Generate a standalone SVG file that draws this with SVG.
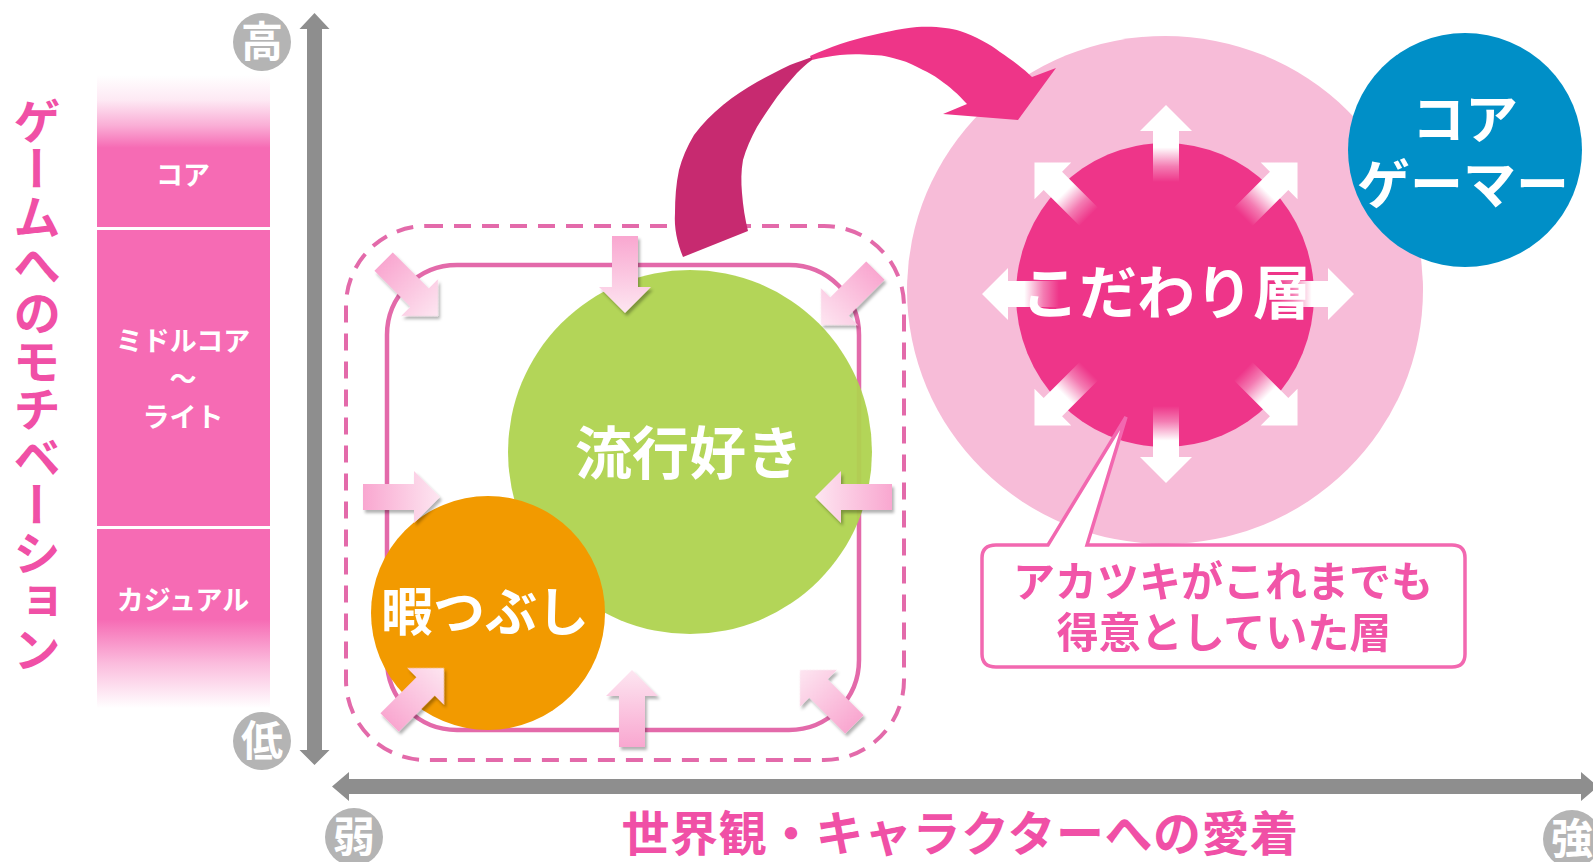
<svg xmlns="http://www.w3.org/2000/svg" width="1593" height="862" viewBox="0 0 1593 862">
<defs>
<style>
.jp{font-family:"Noto Sans CJK JP","Noto Sans CJK SC",sans-serif;font-weight:700;}
.wt{fill:#ffffff;text-anchor:middle;}
.pk{fill:#F050A6;text-anchor:middle;}
.axis{fill:#8E8E8E;}
.badge{fill:#B4B4B4;}
</style>
<linearGradient id="barGrad" x1="0" y1="0" x2="0" y2="1">
<stop offset="0" stop-color="#F66BB4" stop-opacity="0"/>
<stop offset="0.04" stop-color="#F66BB4" stop-opacity="0.15"/>
<stop offset="0.08" stop-color="#F66BB4" stop-opacity="0.55"/>
<stop offset="0.115" stop-color="#F66BB4" stop-opacity="1"/>
<stop offset="0.86" stop-color="#F66BB4" stop-opacity="1"/>
<stop offset="0.93" stop-color="#F66BB4" stop-opacity="0.45"/>
<stop offset="1" stop-color="#F66BB4" stop-opacity="0"/>
</linearGradient>
<linearGradient id="whiteGrad" x1="0" y1="0" x2="1" y2="0">
<stop offset="0" stop-color="#ffffff" stop-opacity="0"/>
<stop offset="0.2" stop-color="#ffffff" stop-opacity="0.35"/>
<stop offset="0.45" stop-color="#ffffff" stop-opacity="1"/>
<stop offset="1" stop-color="#ffffff" stop-opacity="1"/>
</linearGradient>
<linearGradient id="pinkGrad" x1="0" y1="0" x2="1" y2="0">
<stop offset="0" stop-color="#F9A7D0"/>
<stop offset="1" stop-color="#FDE6F1"/>
</linearGradient>
<filter id="shadow" x="-20%" y="-20%" width="140%" height="140%">
<feDropShadow dx="2" dy="3" stdDeviation="1.5" flood-color="#000000" flood-opacity="0.3"/>
</filter>
<path id="arrowW" d="M0,0 L-26,-26 L-26,-13 L-77,-13 L-77,13 L-26,13 L-26,26 Z"/>
</defs>

<!-- left axis title -->
<g id="y-title">
<text class="jp" x="37" y="97" font-size="48" fill="#F050A6" style="writing-mode:vertical-rl">ゲームへのモチベーション</text>
</g>

<!-- motivation bar -->
<g id="motivation-bar">
<rect x="97" y="75" width="173" height="633" fill="url(#barGrad)"/>
<rect x="97" y="227" width="173" height="3" fill="#ffffff"/>
<rect x="97" y="526" width="173" height="3" fill="#ffffff"/>
<text class="jp wt" x="183" y="185" font-size="27" font-weight="400">コア</text>
<text class="jp wt" x="183" y="351" font-size="27" font-weight="400">ミドルコア</text>
<text class="jp wt" x="183" y="389" font-size="27" font-weight="400">～</text>
<text class="jp wt" x="183" y="427" font-size="27" font-weight="400">ライト</text>
<text class="jp wt" x="183" y="610" font-size="27" font-weight="400">カジュアル</text>
</g>

<!-- axes -->
<g id="axes">
<path class="axis" d="M314.5,13 L329.5,29 L322,29 L322,750 L329.5,750 L314.5,765 L299.5,750 L307,750 L307,29 L299.5,29 Z"/>
<path class="axis" d="M332,786.5 L349,772 L349,779 L1581,779 L1581,772 L1598,786.5 L1581,801 L1581,794 L349,794 L349,801 Z"/>
</g>
<g id="badge-high"><circle class="badge" cx="262" cy="42" r="29"/><text class="jp wt" x="262" y="57" font-size="42">高</text></g>
<g id="badge-low"><circle class="badge" cx="262" cy="741" r="29"/><text class="jp wt" x="262" y="756" font-size="42">低</text></g>
<g id="badge-weak"><circle class="badge" cx="354" cy="837" r="29"/><text class="jp wt" x="354" y="852" font-size="42">弱</text></g>
<g id="badge-strong"><circle class="badge" cx="1572" cy="839" r="29"/><text class="jp wt" x="1572" y="854" font-size="42">強</text></g>

<g id="x-title">
<text class="jp pk" x="960" y="851" font-size="48" letter-spacing="0.5">世界観・キャラクターへの愛着</text>
</g>

<!-- casual group frames -->
<g id="casual-frame">
<rect x="346" y="226" width="558" height="534" rx="80" ry="80" fill="none" stroke="#E36AAA" stroke-width="4" stroke-dasharray="17 11"/>
<rect x="387" y="265" width="472" height="465" rx="70" ry="70" fill="none" stroke="#E36AAA" stroke-width="4.5"/>
</g>

<g id="node-trend">
<circle cx="690" cy="452" r="182" fill="#AFD34F" fill-opacity="0.95"/>
</g>
<g id="node-kill-time">
<circle cx="488" cy="613" r="117" fill="#F29A00"/>
</g>

<g id="inward-arrows" filter="url(#shadow)" fill="url(#pinkGrad)">
<use href="#arrowW" transform="translate(625,313) rotate(90)"/>
<use href="#arrowW" transform="translate(438,316) rotate(45)"/>
<use href="#arrowW" transform="translate(821,325) rotate(135)"/>
<use href="#arrowW" transform="translate(440,497) rotate(0)"/>
<use href="#arrowW" transform="translate(815,497) rotate(180)"/>
<use href="#arrowW" transform="translate(444,668) rotate(-45)"/>
<use href="#arrowW" transform="translate(632,670) rotate(-90)"/>
<use href="#arrowW" transform="translate(800,670) rotate(-135)"/>
</g>

<g id="labels-casual">
<text class="jp wt" x="689" y="474" font-size="57">流行好き</text>
<text class="jp wt" x="485" y="631" font-size="52">暇つぶし</text>
</g>

<!-- kodawari -->
<g id="node-kodawari-outer">
<ellipse cx="1165" cy="290" rx="258" ry="254" fill="#F7BCD8"/>
</g>
<g id="node-core-gamer">
<circle cx="1465" cy="150" r="117" fill="#008FC7"/>
<text class="jp wt" x="1465" y="139" font-size="53">コア</text>
<text class="jp wt" x="1463" y="204" font-size="53">ゲーマー</text>
</g>

<!-- curved connector -->
<g id="connectors">
<path d="M810,56 C830,47 850,40 873,35 C890,31 905,28 917,27 C935,26 950,28 960,31 C975,36 990,44 1000,52 C1012,60 1024,69 1032,77 L1056,68 L1018,120 L943,114 L967,104 C958,94 950,87 940,80 C933,75 928,72 923,70 C915,66 908,62 900,60 C890,57 882,55 873,55 C860,54 850,54 840,55 C830,56 820,58 812,60 Z" fill="#EE3588"/>
<path d="M683,257 C677,242 674,228 675,213 C675,198 676,184 679,170 C682,158 687,147 694,135 C702,124 712,114 723,105 C734,96 745,89 757,82 C768,76 779,70 790,65 C798,62 806,59 812,57 L812,60 C806,64 802,68 797,73 C790,81 783,89 777,97 C770,107 763,117 757,127 C751,138 746,149 743,160 C741,171 741,182 742,193 C743,206 745,219 748,231 Z" fill="#C72A70"/>
</g>

<g id="node-kodawari">
<ellipse cx="1165" cy="295" rx="149" ry="152" fill="#EE3589"/>
<g fill="url(#whiteGrad)">
<use href="#arrowW" transform="translate(1166,294) rotate(-90) translate(189,0)"/>
<use href="#arrowW" transform="translate(1166,294) rotate(90) translate(189,0)"/>
<use href="#arrowW" transform="translate(1166,294) rotate(180) translate(184,0)"/>
<use href="#arrowW" transform="translate(1166,294) rotate(0) translate(188,0)"/>
<use href="#arrowW" transform="translate(1166,294) rotate(-135) translate(186,0)"/>
<use href="#arrowW" transform="translate(1166,294) rotate(-45) translate(186,0)"/>
<use href="#arrowW" transform="translate(1166,294) rotate(135) translate(186,0)"/>
<use href="#arrowW" transform="translate(1166,294) rotate(45) translate(186,0)"/>
</g>
<text class="jp wt" x="1166" y="314" font-size="58">こだわり層</text>
</g>

<!-- callout -->
<g id="callout">
<path d="M996,545 L1048,545 L1126,417 L1087,545 L1452,545 Q1465,545 1465,558 L1465,654 Q1465,667 1452,667 L996,667 Q982,667 982,654 L982,558 Q982,545 996,545 Z" fill="#ffffff" stroke="#F268B0" stroke-width="3.5" stroke-linejoin="miter"/>
<text class="jp" x="1223" y="597" font-size="42" fill="#F155A8" text-anchor="middle">アカツキがこれまでも</text>
<text class="jp" x="1224" y="648" font-size="42" fill="#F155A8" text-anchor="middle">得意としていた層</text>
</g>
</svg>
